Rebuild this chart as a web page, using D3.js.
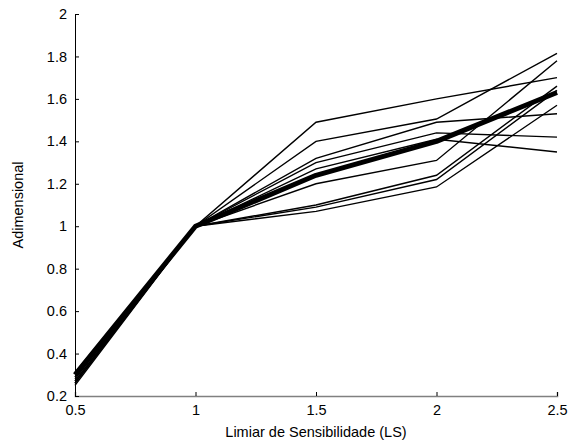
<!DOCTYPE html>
<html>
<head>
<meta charset="utf-8">
<script src="https://cdn.jsdelivr.net/npm/d3@7"></script>
<style>
  html, body { margin: 0; padding: 0; background: #fff; }
  text { font-family: "Liberation Sans", Arial, sans-serif; }
</style>
</head>
<body>
<svg id="chart" width="572" height="445"></svg>
<script>
// Threshold values along the horizontal axis
const thresholds = [0.5, 1, 1.5, 2, 2.5];
const xTicks = [0.5, 1, 1.5, 2, 2.5];
const yTicks = [0.2, 0.4, 0.6, 0.8, 1, 1.2, 1.4, 1.6, 1.8, 2];

// Individual runs (thin lines)
const runA = [0.28, 1, 1.49, 1.60, 1.70];
const runB = [0.27, 1, 1.40, 1.505, 1.815];
const runC = [0.29, 1, 1.32, 1.49, 1.53];
const runD = [0.31, 1, 1.30, 1.44, 1.42];
const runE = [0.26, 1, 1.27, 1.41, 1.35];
const runF = [0.29, 1, 1.20, 1.31, 1.78];
const runG = [0.27, 1, 1.10, 1.24, 1.66];
const runH = [0.25, 1, 1.09, 1.22, 1.64];
const runI = [0.26, 1, 1.07, 1.185, 1.57];
const runs = [runA, runB, runC, runD, runE, runF, runG, runH, runI];

// Mean curve (thick line)
const meanCurve = [0.30, 1, 1.24, 1.40, 1.63];

const svg = d3.select("#chart");
const margin = { left: 75, right: 15, top: 14, bottom: 49 };
const W = 572, H = 445;

const x = d3.scaleLinear().domain([0.5, 2.5]).range([margin.left, W - margin.right]);
const y = d3.scaleLinear().domain([0.2, 2]).range([H - margin.bottom, margin.top]);

const line = d3.line()
  .x((d, i) => x(thresholds[i]))
  .y(d => y(d));

// Thin lines
svg.append("g")
  .selectAll("path")
  .data(runs)
  .join("path")
  .attr("d", line)
  .attr("fill", "none")
  .attr("stroke", "#000")
  .attr("stroke-width", 1.4)
  .attr("stroke-linejoin", "miter");

// Thick mean line
svg.append("path")
  .datum(meanCurve)
  .attr("d", line)
  .attr("fill", "none")
  .attr("stroke", "#000")
  .attr("stroke-width", 5)
  .attr("stroke-linejoin", "round");

// X axis (gray baseline, ticks pointing inward)
const xAxis = svg.append("g")
  .attr("transform", `translate(0,${y(0.2)})`)
  .call(d3.axisBottom(x).tickValues(xTicks).tickSize(-4).tickPadding(9)
    .tickFormat(d => d3.format("")(d)));
xAxis.select(".domain").attr("stroke", "#808080").attr("stroke-width", 1.5);
xAxis.selectAll(".tick line").attr("stroke", "#000");
xAxis.selectAll("text").attr("font-size", 14.5).attr("fill", "#000")
  .attr("font-family", "Liberation Sans, Arial, sans-serif");

// Y axis (ticks pointing inward)
const yAxis = svg.append("g")
  .attr("transform", `translate(${x(0.5)},0)`)
  .call(d3.axisLeft(y).tickValues(yTicks).tickSize(-4).tickPadding(8)
    .tickFormat(d => d3.format("")(d)));
yAxis.select(".domain").attr("stroke", "#000").attr("stroke-width", 1);
yAxis.selectAll(".tick line").attr("stroke", "#000");
yAxis.selectAll("text").attr("font-size", 14.5).attr("fill", "#000")
  .attr("font-family", "Liberation Sans, Arial, sans-serif");

// Axis titles
svg.append("text")
  .attr("x", x(1.5))
  .attr("y", 437)
  .attr("text-anchor", "middle")
  .attr("font-size", 14.5)
  .text("Limiar de Sensibilidade (LS)");

svg.append("text")
  .attr("transform", `translate(23,${y(1.1)}) rotate(-90)`)
  .attr("text-anchor", "middle")
  .attr("font-size", 14.5)
  .text("Adimensional");
</script>
</body>
</html>
